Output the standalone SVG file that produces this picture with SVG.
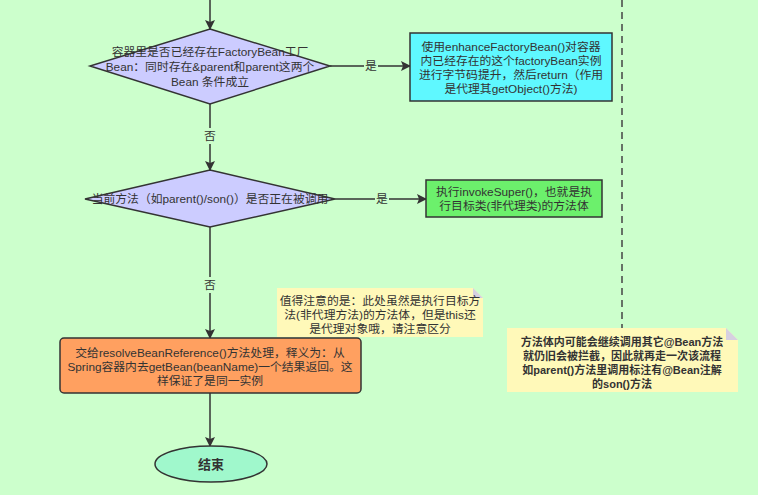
<svg xmlns="http://www.w3.org/2000/svg" width="758" height="495" viewBox="0 0 758 495">
<defs>
<marker id="arr" markerWidth="10" markerHeight="10" refX="9" refY="5" orient="auto" markerUnits="userSpaceOnUse">
<path d="M0,0 L10,5 L0,10 L2,5 Z" fill="#333"/>
</marker>
<style>
text{font-family:"Liberation Sans","Noto Sans CJK SC",sans-serif;font-size:11.8px;fill:#333;text-anchor:middle;dominant-baseline:central}
.b{font-weight:bold;font-size:11px}
.shape{stroke:#333;stroke-width:1.5}
.edge{stroke:#333;stroke-width:1.5;fill:none}
.lbl{fill:#ccffcc}
.note{fill:#fff9b9;stroke:none}
.fold{fill:#d6d0e0}
</style>
</defs>
<rect width="758" height="495" fill="#ccffcc"/>
<g id="connectors">
<line class="edge" x1="210" y1="0" x2="210" y2="29" marker-end="url(#arr)"/>
<line class="edge" x1="330" y1="66" x2="410" y2="66" marker-end="url(#arr)"/>
<rect class="lbl" x="364" y="58" width="14" height="16"/>
<text x="371" y="66">是</text>
<line class="edge" x1="210" y1="104" x2="210" y2="170" marker-end="url(#arr)"/>
<rect class="lbl" x="203" y="128" width="14" height="16"/>
<text x="210" y="136">否</text>
<line class="edge" x1="335" y1="199" x2="426" y2="199" marker-end="url(#arr)"/>
<rect class="lbl" x="375" y="191" width="14" height="16"/>
<text x="382" y="199">是</text>
<line class="edge" x1="210" y1="227" x2="210" y2="338" marker-end="url(#arr)"/>
<rect class="lbl" x="203" y="277" width="14" height="16"/>
<text x="210" y="285">否</text>
<line class="edge" x1="210" y1="393" x2="210" y2="446" marker-end="url(#arr)"/>
<line x1="622" y1="0" x2="622" y2="328" stroke="#444" stroke-width="1.5" stroke-dasharray="7,5"/>
</g>
<g id="decision1">
<polygon class="shape" points="210,29 330,66 210,104 90,66" fill="#ccccff"/>
<text x="210" y="52">容器里是否已经存在FactoryBean工厂<tspan x="210" dy="15">Bean：同时存在&amp;parent和parent这两个</tspan><tspan x="210" dy="15">Bean 条件成立</tspan></text>
</g>
<g id="enhance">
<rect class="shape" x="410" y="33" width="202" height="68" fill="#5ff8ff"/>
<text x="511" y="47">使用enhanceFactoryBean()对容器<tspan x="511" dy="14">内已经存在的这个factoryBean实例</tspan><tspan x="511" dy="14">进行字节码提升，然后return（作用</tspan><tspan x="511" dy="14">是代理其getObject()方法)</tspan></text>
</g>
<g id="decision2">
<polygon class="shape" points="210,170 335,199 210,227 85,199" fill="#ccccff"/>
<text x="210" y="199">当前方法（如parent()/son()）是否正在被调用</text>
</g>
<g id="invokeSuper">
<rect class="shape" x="426" y="180" width="176" height="37" fill="#6cf06c"/>
<text x="514" y="192">执行invokeSuper()，也就是执<tspan x="514" dy="14">行目标类(非代理类)的方法体</tspan></text>
</g>
<g id="note1">
<path class="note" d="M277,288 H473 L483,298 V337 H277 Z"/>
<path class="fold" d="M473,288 L483,298 H473 Z"/>
<text x="380" y="301">值得注意的是：此处虽然是执行目标方<tspan x="380" dy="14">法(非代理方法)的方法体，但是this还</tspan><tspan x="380" dy="14">是代理对象哦，请注意区分</tspan></text>
</g>
<g id="resolve">
<rect class="shape" x="60" y="338" width="301" height="55" rx="4" fill="#ffa060"/>
<text x="210" y="353">交给resolveBeanReference()方法处理，释义为：从<tspan x="210" dy="14">Spring容器内去getBean(beanName)一个结果返回。这</tspan><tspan x="210" dy="14">样保证了是同一实例</tspan></text>
</g>
<g id="note2">
<path class="note" d="M507,328 H726 L738,340 V392 H507 Z"/>
<path class="fold" d="M726,328 L738,340 H726 Z"/>
<text class="b" x="622" y="342">方法体内可能会继续调用其它@Bean方法<tspan x="622" dy="14">就仍旧会被拦截，因此就再走一次该流程</tspan><tspan x="622" dy="14">如parent()方法里调用标注有@Bean注解</tspan><tspan x="622" dy="14">的son()方法</tspan></text>
</g>
<g id="end">
<ellipse class="shape" cx="211" cy="464" rx="56" ry="18" fill="#a0f8cc"/>
<text class="b" x="211" y="464" style="font-size:13px">结束</text>
</g>
</svg>
